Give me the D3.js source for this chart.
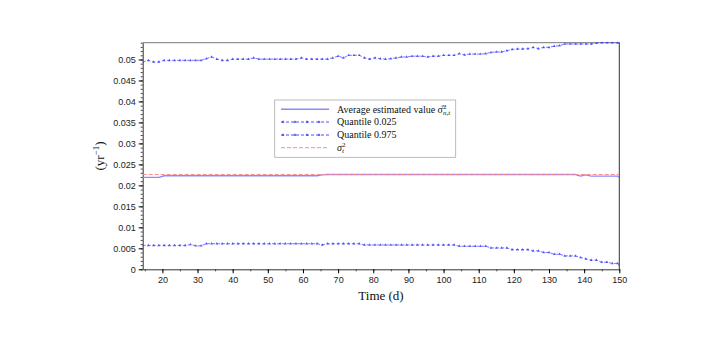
<!DOCTYPE html>
<html>
<head>
<meta charset="utf-8">
<script src="https://cdn.jsdelivr.net/npm/d3@7"></script>
<style>
  body { margin: 0; background: #fff; }
  .tick text { font-family: "Liberation Sans", Arial, sans-serif; font-size: 9px; fill: #222; }
</style>
</head>
<body>
<div id="chart"></div>
<script>
// size of the page
const WIDTH = 708;
const HEIGHT = 339;
const MARGIN = { TOP: 42.7, RIGHT: 88.7, BOTTOM: 69.7, LEFT: 142.7 };

// time grid (days)
const days = [14.4, 16, 17.5, 19, 20.5, 22, 23.5, 25, 26.5, 28, 29.5, 31, 32.5, 34, 35.5, 37, 38.5, 40,
  41.5, 43, 44.5, 46, 47.5, 49, 50.5, 52, 53.5, 55, 56.5, 58, 59.5, 61, 62.5, 64, 65.5, 67, 68.5, 70,
  71.5, 73, 74.5, 76, 77.5, 79, 80.5, 82, 83.5, 85, 86.5, 88, 89.5, 91, 92.5, 94, 95.5, 97, 98.5, 100,
  101.5, 103, 104.5, 106, 107.5, 109, 110.5, 112, 113.5, 115, 116.5, 118, 119.5, 121, 122.5, 124,
  125.5, 127, 128.5, 130, 131.5, 133, 134.5, 136, 137.5, 139, 140.5, 142, 143.5, 145, 146.5, 148,
  149.5, 150];

// average estimated value
const meanVals = [0.0219, 0.0219, 0.0219, 0.0219, 0.0223, 0.0223, 0.0223, 0.0223, 0.0223, 0.0223,
  0.0223, 0.0223, 0.0223, 0.0223, 0.0223, 0.0223, 0.0223, 0.0223, 0.0223, 0.0223, 0.0223, 0.0223,
  0.0223, 0.0223, 0.0223, 0.0223, 0.0223, 0.0223, 0.0223, 0.0223, 0.0223, 0.0223, 0.0223, 0.0223,
  0.0225, 0.0226, 0.0226, 0.0226, 0.0226, 0.0226, 0.0226, 0.0226, 0.0226, 0.0226, 0.0226, 0.0226,
  0.0226, 0.0226, 0.0226, 0.0226, 0.0226, 0.0226, 0.0226, 0.0226, 0.0226, 0.0226, 0.0226, 0.0226,
  0.0226, 0.0226, 0.0226, 0.0226, 0.0226, 0.0226, 0.0226, 0.0226, 0.0226, 0.0226, 0.0226, 0.0226,
  0.0226, 0.0226, 0.0226, 0.0226, 0.0226, 0.0226, 0.0226, 0.0226, 0.0226, 0.0226, 0.0226, 0.0226,
  0.0226, 0.0222, 0.0225, 0.0222, 0.0222, 0.0222, 0.0222, 0.0222, 0.0222, 0.0219];

// quantile 0.025
const qLow = [0.0057, 0.0057, 0.0057, 0.0057, 0.0057, 0.0057, 0.0057, 0.0057, 0.0057, 0.0059,
  0.0056, 0.0056, 0.0061, 0.0061, 0.0061, 0.0061, 0.0061, 0.0061, 0.0061, 0.0061, 0.0061, 0.0061,
  0.0061, 0.0061, 0.0061, 0.0061, 0.0061, 0.0061, 0.0061, 0.0061, 0.0061, 0.0061, 0.0061, 0.0061,
  0.0058, 0.0061, 0.0061, 0.0061, 0.0061, 0.0061, 0.0061, 0.0061, 0.0058, 0.0058, 0.0058, 0.0058,
  0.0058, 0.0058, 0.0058, 0.0058, 0.0058, 0.0058, 0.0058, 0.0058, 0.0058, 0.0058, 0.0058, 0.0058,
  0.0058, 0.0058, 0.0055, 0.0055, 0.0055, 0.0055, 0.0055, 0.0055, 0.0051, 0.0051, 0.0051, 0.0051,
  0.0047, 0.0047, 0.0047, 0.0047, 0.0044, 0.0044, 0.0040, 0.0040, 0.0036, 0.0036, 0.0032, 0.0032,
  0.0032, 0.0028, 0.0025, 0.0022, 0.0022, 0.0017, 0.0017, 0.0014, 0.0014, 0.0011];

// quantile 0.975
const qHigh = [0.0494, 0.0498, 0.0494, 0.0494, 0.0498, 0.0498, 0.0498, 0.0498, 0.0498, 0.0498,
  0.0498, 0.0498, 0.0502, 0.0506, 0.0501, 0.0498, 0.0498, 0.0501, 0.0501, 0.0501, 0.0501, 0.0504,
  0.0501, 0.0501, 0.0501, 0.0501, 0.0501, 0.0501, 0.0501, 0.0501, 0.0504, 0.0501, 0.0501, 0.0501,
  0.0501, 0.0501, 0.0504, 0.0508, 0.0504, 0.0510, 0.0510, 0.0510, 0.0504, 0.0501, 0.0504, 0.0502,
  0.0501, 0.0502, 0.0504, 0.0506, 0.0506, 0.0508, 0.0508, 0.0508, 0.0506, 0.0508, 0.0508, 0.0510,
  0.0510, 0.0510, 0.0514, 0.0511, 0.0513, 0.0513, 0.0513, 0.0514, 0.0517, 0.0518, 0.0518, 0.0521,
  0.0524, 0.0525, 0.0525, 0.0526, 0.0529, 0.0526, 0.0529, 0.0529, 0.0532, 0.0533, 0.0537, 0.0537,
  0.0537, 0.0537, 0.0537, 0.0537, 0.0539, 0.0540, 0.0540, 0.0540, 0.0540, 0.0540];

// true value sigma_t^2
const trueDays = [14.4, 150];
const trueVals = [0.0226, 0.0226];

const xTicks = [20, 30, 40, 50, 60, 70, 80, 90, 100, 110, 120, 130, 140, 150];
const yTicks = [0, 0.005, 0.01, 0.015, 0.02, 0.025, 0.03, 0.035, 0.04, 0.045, 0.05];

const MEAN_COLOR = "#8a8aff";
const Q_COLOR = "#3c3cff";
const TRUE_COLOR = "#ff8a8a";

let xScale = d3.scaleLinear()
    .domain([14.4, 150])
    .range([MARGIN.LEFT, WIDTH - MARGIN.RIGHT]);

let yScale = d3.scaleLinear()
    .domain([0, 0.054])
    .range([HEIGHT - MARGIN.BOTTOM, MARGIN.TOP]);

let svg = d3.select("#chart")
    .append("svg")
    .attr("width", WIDTH)
    .attr("height", HEIGHT);

svg.append("defs").append("clipPath")
    .attr("id", "plotclip")
    .append("rect")
    .attr("x", MARGIN.LEFT)
    .attr("y", MARGIN.TOP - 1)
    .attr("width", WIDTH - MARGIN.RIGHT - MARGIN.LEFT)
    .attr("height", HEIGHT - MARGIN.BOTTOM - MARGIN.TOP + 1);

// minor ticks first
svg.append("g")
    .attr("transform", "translate(" + MARGIN.LEFT + ",0)")
    .call(d3.axisLeft(yScale).tickValues(d3.range(0, 0.0545, 0.001)).tickSize(2).tickFormat(""))
    .call(g => g.select(".domain").remove())
    .selectAll("line").attr("stroke", "#444");

svg.append("g")
    .attr("transform", "translate(0," + (HEIGHT - MARGIN.BOTTOM) + ")")
    .call(d3.axisBottom(xScale).tickValues(d3.range(15, 151, 5)).tickSize(2).tickFormat(""))
    .call(g => g.select(".domain").remove())
    .selectAll("line").attr("stroke", "#444");

// main axes
svg.append("g")
    .attr("transform", "translate(0," + (HEIGHT - MARGIN.BOTTOM) + ")")
    .call(d3.axisBottom(xScale).tickValues(xTicks).tickSize(4).tickSizeOuter(0).tickPadding(3))
    .call(g => g.select(".domain").attr("stroke", "#333"));

svg.append("g")
    .attr("transform", "translate(" + MARGIN.LEFT + ",0)")
    .call(d3.axisLeft(yScale).tickValues(yTicks).tickSize(4).tickSizeOuter(0).tickPadding(3)
        .tickFormat(d => d === 0 ? "0" : d3.format("")(+d.toFixed(3))))
    .call(g => g.select(".domain").attr("stroke", "#333"));

// top and right frame
svg.append("line")
    .attr("x1", MARGIN.LEFT).attr("x2", WIDTH - MARGIN.RIGHT)
    .attr("y1", MARGIN.TOP).attr("y2", MARGIN.TOP)
    .attr("stroke", "#777");
svg.append("line")
    .attr("x1", WIDTH - MARGIN.RIGHT).attr("x2", WIDTH - MARGIN.RIGHT)
    .attr("y1", MARGIN.TOP).attr("y2", HEIGHT - MARGIN.BOTTOM)
    .attr("stroke", "#333");

let plot = svg.append("g").attr("clip-path", "url(#plotclip)");

let line = d3.line()
    .x(d => xScale(d[0]))
    .y(d => yScale(d[1]));

const meanData = d3.zip(days, meanVals);
const lowData = d3.zip(days, qLow);
const highData = d3.zip(days, qHigh);
const trueData = d3.zip(trueDays, trueVals);

plot.append("path")
    .datum(meanData)
    .attr("d", line)
    .attr("fill", "none")
    .attr("stroke", MEAN_COLOR)
    .attr("stroke-width", 1.4);

plot.append("path")
    .datum(trueData)
    .attr("d", line)
    .attr("fill", "none")
    .attr("stroke", TRUE_COLOR)
    .attr("stroke-width", 1)
    .attr("stroke-dasharray", "4,2");

let marker = d3.symbol().type(d3.symbolTriangle).size(3.5);

[lowData, highData].forEach(data => {
    plot.append("path")
        .datum(data)
        .attr("d", line)
        .attr("fill", "none")
        .attr("stroke", Q_COLOR)
        .attr("stroke-opacity", 0.75)
        .attr("stroke-width", 0.9)
        .attr("stroke-dasharray", "3,2");

    plot.selectAll(null)
        .data(data)
        .enter()
        .append("path")
        .attr("d", marker)
        .attr("transform", d => "translate(" + xScale(d[0]) + "," + yScale(d[1]) + ")")
        .attr("fill", Q_COLOR)
        .attr("fill-opacity", 0.85);
});

// axis titles
svg.append("text")
    .attr("x", (MARGIN.LEFT + WIDTH - MARGIN.RIGHT) / 2)
    .attr("y", 300)
    .attr("text-anchor", "middle")
    .attr("font-family", "Liberation Serif, serif")
    .attr("font-size", 13)
    .attr("fill", "#111")
    .text("Time (d)");

let ylab = svg.append("text")
    .attr("transform", "translate(104," + (yScale(0.027)) + ") rotate(-90)")
    .attr("text-anchor", "middle")
    .attr("font-family", "Liberation Serif, serif")
    .attr("font-size", 13)
    .attr("fill", "#111");
ylab.append("tspan").text("(yr");
ylab.append("tspan").attr("dy", -5).attr("font-size", 9).text("\u22121");
ylab.append("tspan").attr("dy", 5).text(")");

// legend
let legend = svg.append("g");
legend.append("rect")
    .attr("x", 274.7).attr("y", 100)
    .attr("width", 181).attr("height", 57.3)
    .attr("fill", "#fff")
    .attr("stroke", "#aaa")
    .attr("stroke-width", 0.8);

const legendRows = [
    { y: 109.3, color: MEAN_COLOR, dash: null, width: 1.4, marks: false },
    { y: 122, color: Q_COLOR, dash: "3,2", width: 0.9, marks: true },
    { y: 135, color: Q_COLOR, dash: "3,2", width: 0.9, marks: true },
    { y: 147.7, color: TRUE_COLOR, dash: "4,2", width: 1, marks: false }
];

legendRows.forEach(r => {
    legend.append("line")
        .attr("x1", 281).attr("x2", 329)
        .attr("y1", r.y).attr("y2", r.y)
        .attr("stroke", r.color)
        .attr("stroke-width", r.width)
        .attr("stroke-dasharray", r.dash);
    if (r.marks) {
        legend.selectAll(null)
            .data([283, 295, 307, 319])
            .enter()
            .append("path")
            .attr("d", marker)
            .attr("transform", d => "translate(" + d + "," + r.y + ")")
            .attr("fill", r.color);
    }
});

let legendText = legend.append("g")
    .attr("font-family", "Liberation Serif, serif")
    .attr("font-size", 10)
    .attr("fill", "#111");

let t1 = legendText.append("text").attr("x", 337).attr("y", 112.5);
t1.append("tspan").text("Average estimated value \u03c3\u0302");
t1.append("tspan").attr("dy", -4).attr("font-size", 7).text("2");
t1.append("tspan").attr("dx", -3.5).attr("dy", 6.5).attr("font-size", 7).attr("font-style", "italic").text("n,t");

legendText.append("text").attr("x", 337).attr("y", 125.2).text("Quantile 0.025");
legendText.append("text").attr("x", 337).attr("y", 138.2).text("Quantile 0.975");

let t4 = legendText.append("text").attr("x", 337).attr("y", 150.5);
t4.append("tspan").attr("font-style", "italic").text("\u03c3");
t4.append("tspan").attr("dy", -4).attr("font-size", 7).text("2");
t4.append("tspan").attr("dx", -3.5).attr("dy", 6.5).attr("font-size", 7).attr("font-style", "italic").text("t");
</script>
</body>
</html>
